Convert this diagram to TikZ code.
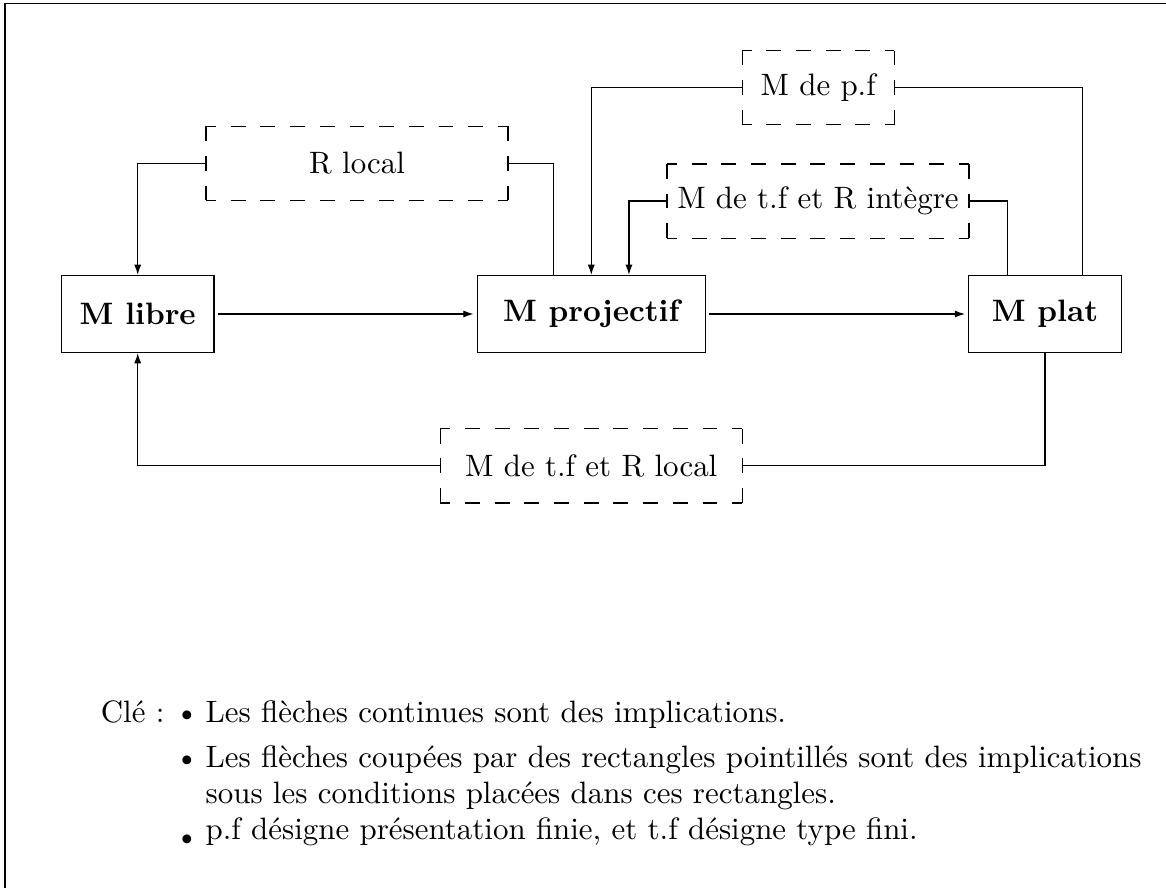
\documentclass[tikz,border=0pt]{standalone}
\usepackage{tikz}
\usetikzlibrary{positioning,calc,arrows.meta}

\begin{document}
\begin{tikzpicture}[
    modbox/.style={draw, font=\bfseries, minimum height=0.875cm, inner sep=0pt},
    cond/.style={minimum height=24pt, inner sep=0pt, outer sep=0pt},
    condline/.style={dash pattern=on 4.8pt off 4.8pt},
    imp/.style={-{Latex[length=3.3pt,width=2.3pt]}}
  ]
  \useasboundingbox (0,0) rectangle (13.25,-10.09);
  % Frame (only left and top edges show)
  \draw[semithick] (0.057,-10.09) |- (13.25,-0.04);

  % Modules
  \node[modbox, minimum width=1.731cm] (libre) at (1.565,-3.568) {M libre};
  \node[modbox, minimum width=2.591cm] (proj) at (6.719,-3.568) {M projectif};
  \node[modbox, minimum width=1.734cm] (plat) at (11.875,-3.568) {M plat};

  % Conditions
  \node[cond, minimum width=3.432cm] (rloc) at (4.057,-1.856) {R local};
  \node[cond, minimum width=1.727cm] (pf) at (9.298,-0.996) {M de p.f};
  \node[cond, minimum width=3.432cm] (tfint) at (9.295,-2.284) {M de t.f et R intègre};
  \node[cond, minimum width=3.432cm] (tfloc) at (6.719,-5.293) {M de t.f et R local};

  % Dashed frames of the conditions
  \foreach \c/\ph in {rloc/1.6pt, pf/1.8pt, tfint/1.6pt, tfloc/1.6pt} {
    \draw[condline] (\c.north west) -- (\c.south west);
    \draw[condline] (\c.north east) -- (\c.south east);
    \draw[condline, dash phase=\ph] (\c.north west) -- (\c.north east);
    \draw[condline, dash phase=\ph] (\c.south west) -- (\c.south east);
  }

  % Implications
  \draw[imp, shorten <=1pt, shorten >=1pt] (libre) -- (proj);
  \draw[imp, shorten <=1pt, shorten >=1pt] (proj) -- (plat);

  % Implications under conditions
  \draw[imp] (rloc.west) -| (libre.north);
  \draw (rloc.east) -| ([xshift=-0.427cm]proj.north);
  \draw[imp] (pf.west) -| (proj.north);
  \draw (pf.east) -| ([xshift=0.428cm]plat.north);
  \draw[imp] (tfint.west) -| ([xshift=0.428cm]proj.north);
  \draw (tfint.east) -| ([xshift=-0.428cm]plat.north);
  \draw[imp] (tfloc.west) -| (libre.south);
  \draw (tfloc.east) -| (plat.south);

  % Key
  \node[anchor=base east, inner sep=0pt] (cle) at (1.875,-8.205) {Clé :};
  \node[anchor=base west, inner sep=0pt] (b1) at (1.98,-8.205) {\textbullet};
  \node[anchor=base west, inner sep=0pt] (t1) at (2.33,-8.205) {Les flèches continues sont des implications.};
  \node[anchor=base west, inner sep=0pt] (b2) at (1.98,-8.716) {\textbullet};
  \node[anchor=base west, inner sep=0pt] (t2) at (2.33,-8.716) {Les flèches coupées par des rectangles pointillés sont des implications};
  \node[anchor=base west, inner sep=0pt] (t2b) at (2.33,-9.125) {sous les conditions placées dans ces rectangles.};
  \node[anchor=base west, inner sep=0pt, yshift=-2.3pt] (b3) at (1.98,-9.534) {\textbullet};
  \node[anchor=base west, inner sep=0pt] (t3) at (2.33,-9.534) {p.f désigne présentation finie, et t.f désigne type fini.};
\end{tikzpicture}
\end{document}
